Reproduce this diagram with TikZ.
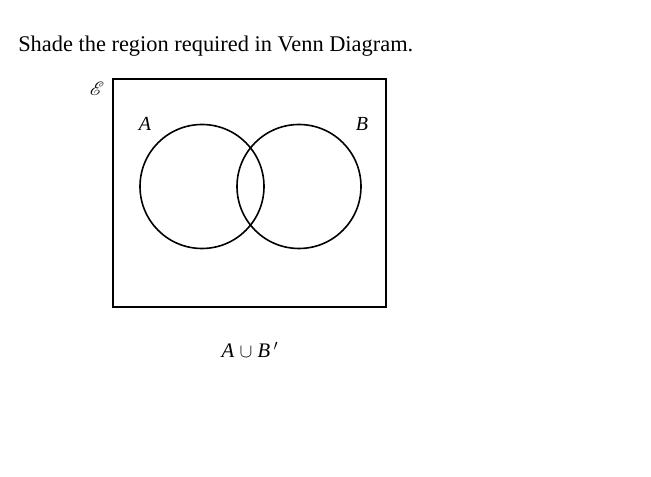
\documentclass[tikz,border=0pt]{standalone}
\usepackage{fontspec}
\setmainfont{Liberation Serif}
\usepackage{mathrsfs}
\usetikzlibrary{positioning}

\begin{document}
\begin{tikzpicture}[
    x=0.75pt, y=-0.75pt,
    font=\fontsize{16.8}{19}\selectfont,
    set/.style={draw, circle, line width=1.2pt, minimum size=93pt, inner sep=0pt},
    univ/.style={draw, line width=1.2pt},
    lbl/.style={inner sep=0pt, font=\fontsize{15}{17}\selectfont\itshape}
]
  \useasboundingbox (0,0) rectangle (651,477);
  \node[anchor=base west, inner sep=0pt] (task) at (18,52) {Shade the region required in Venn Diagram.};

  \draw[univ] (113,79) rectangle (386,307);
  \node[inner sep=0pt, font=\fontsize{15}{17}\selectfont] (univlbl) at (97,89) {$\mathscr{E}$};

  \node[set] (setA) at (202,186.5) {};
  \node[set] (setB) at (299,186.5) {};
  \node[lbl] (lblA) at (145,124) {A};
  \node[lbl] (lblB) at (362,124) {B};

  \node[inner sep=0pt, font=\fontsize{15.5}{18}\selectfont] (expr) at (250,350) {\textit{A} $\cup$ \textit{B}\,$'$};
\end{tikzpicture}
\end{document}
